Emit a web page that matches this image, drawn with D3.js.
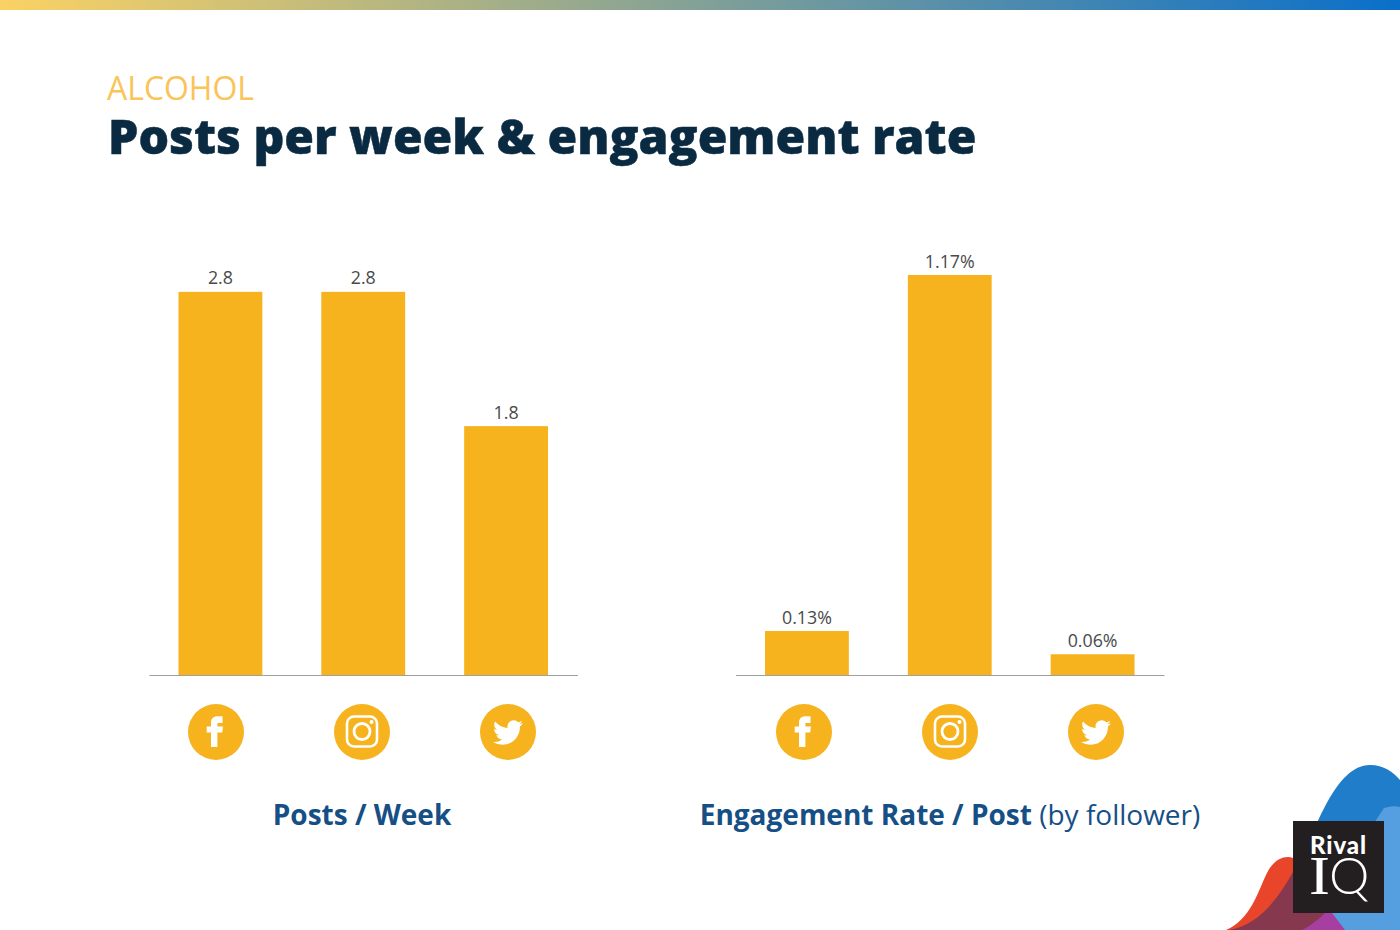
<!DOCTYPE html>
<html>
<head>
<meta charset="utf-8">
<script src="https://cdn.jsdelivr.net/npm/d3@7"></script>
<style>
	html, body { margin: 0; padding: 0; background: #fff; }
	svg { display: block; }
	text { font-family: 'Open Sans', sans-serif; }
	.title { font-size: 48.1px; font-weight: 800; fill: #0a2a42; stroke: #0a2a42; stroke-width: 0.5px; }
	.kicker { font-size: 32px; font-weight: 400; fill: #fac45a; }
	.value { font-size: 17.8px; fill: #4a4a4a; text-anchor: middle; }
	.caption { font-size: 28px; fill: #164f86; text-anchor: middle; }
	.caption .strong { font-weight: 700; }
</style>
</head>
<body>
<svg id="chart" width="1400" height="930"></svg>
<script>
var categories = ['facebook', 'instagram', 'twitter'];
var postsValues = [2.8, 2.8, 1.82];
var postsLabels = ['2.8', '2.8', '1.8'];
var engagementValues = [0.13, 1.17, 0.062];
var engagementLabels = ['0.13%', '1.17%', '0.06%'];

var barColor = '#f6b31e';
var svg = d3.select('#chart');

// top gradient strip
var grad = svg.append('defs').append('linearGradient').attr('id', 'strip');
grad.append('stop').attr('offset', '0%').attr('stop-color', '#fad264');
grad.append('stop').attr('offset', '100%').attr('stop-color', '#0a6fca');
svg.append('rect').attr('width', 1400).attr('height', 10).attr('fill', 'url(#strip)');

svg.append('text').attr('class', 'kicker').attr('x', 107).attr('y', 100).attr('textLength', 147).text('ALCOHOL');
svg.append('text').attr('class', 'title').attr('x', 108).attr('y', 154).text('Posts per week & engagement rate');

function drawIcon(g, name) {
	g.append('circle').attr('r', 28).attr('fill', barColor);
	if (name == 'facebook') {
		g.append('path')
			.attr('transform', 'translate(-21,-22.7) scale(1.6)')
			.attr('fill', '#fff')
			.attr('d', 'M14 8.5h3.2V4.3h-3C11.3 4.3 10 6 10 8.3v2.4H7.3v3.8H10v9h4v-9h3l.5-3.8H14V8.5z');
	}
	else if (name == 'instagram') {
		g.append('rect').attr('x', -15).attr('y', -15.5).attr('width', 30).attr('height', 30).attr('rx', 7)
			.attr('fill', 'none').attr('stroke', '#fff').attr('stroke-width', 2.6);
		g.append('circle').attr('cy', -0.5).attr('r', 8).attr('fill', 'none').attr('stroke', '#fff').attr('stroke-width', 2.8);
		g.append('circle').attr('cx', 9.5).attr('cy', -10).attr('r', 2).attr('fill', '#fff');
	}
	else {
		g.append('path')
			.attr('transform', 'translate(-15,-14.5) scale(1.25)')
			.attr('fill', '#fff')
			.attr('d', 'M23.953 4.57a10 10 0 01-2.825.775 4.958 4.958 0 002.163-2.723c-.951.555-2.005.959-3.127 1.184a4.92 4.92 0 00-8.384 4.482C7.69 8.095 4.067 6.13 1.64 3.162a4.822 4.822 0 00-.666 2.475c0 1.71.87 3.213 2.188 4.096a4.904 4.904 0 01-2.228-.616v.06a4.923 4.923 0 003.946 4.827 4.996 4.996 0 01-2.212.085 4.936 4.936 0 004.604 3.417 9.867 9.867 0 01-6.102 2.105c-.39 0-.779-.023-1.17-.067a13.995 13.995 0 007.557 2.209c9.053 0 13.998-7.496 13.998-13.985 0-.21 0-.42-.015-.63A9.935 9.935 0 0024 4.59z');
	}
}

function drawPanel(p) {
	var x = d3.scaleBand().domain(categories)
		.range([p.left, p.left + 428.5])
		.paddingInner(0.413)
		.paddingOuter(0.2065);
	var y = d3.scaleLinear().domain([0, p.max]).range([675.5, 275]);
	var iconX = d3.scalePoint().domain(categories).range([p.iconLeft, p.iconLeft + 292]);

	svg.selectAll('.bar-' + p.name).data(p.values).enter().append('rect')
		.attr('class', 'bar-' + p.name)
		.attr('x', function(d, i) { return x(categories[i]); })
		.attr('y', function(d) { return y(d); })
		.attr('width', x.bandwidth())
		.attr('height', function(d) { return y(0) - y(d); })
		.attr('fill', barColor);

	svg.selectAll('.value-' + p.name).data(p.values).enter().append('text')
		.attr('class', 'value value-' + p.name)
		.attr('x', function(d, i) { return x(categories[i]) + x.bandwidth() / 2; })
		.attr('y', function(d) { return y(d) - 7.5; })
		.text(function(d, i) { return p.labels[i]; });

	var axis = svg.append('g')
		.attr('transform', 'translate(0,675)')
		.call(d3.axisBottom(x).tickSize(0).tickFormat(''));
	axis.select('.domain').attr('stroke', '#a0a0a0').attr('stroke-width', 1);

	categories.forEach(function(c) {
		drawIcon(svg.append('g').attr('transform', 'translate(' + iconX(c) + ',732)'), c);
	});

	var caption = svg.append('text').attr('class', 'caption')
		.attr('x', p.captionX).attr('y', 825);
	caption.append('tspan').attr('class', 'strong').text(p.caption);
	if (p.captionRest) caption.append('tspan').text(p.captionRest);
}

drawPanel({
	name: 'posts', left: 149, iconLeft: 216, max: 2.923, values: postsValues, labels: postsLabels,
	caption: 'Posts / Week', captionX: 362
});
drawPanel({
	name: 'engagement', left: 735.5, iconLeft: 804, max: 1.17, values: engagementValues, labels: engagementLabels,
	caption: 'Engagement Rate / Post', captionRest: ' (by follower)', captionX: 950
});

// logo
var logo = svg.append('g');
logo.append('path').attr('fill', '#1f7dc9')
	.attr('d', 'M1300 860C1316 830 1335 765 1370 765C1384 765 1393 772 1400 780V930H1300Z');
logo.append('path').attr('fill', '#559fe0')
	.attr('d', 'M1384 808C1392 806 1396 806 1400 807V930H1320L1330 890Z');
logo.append('path').attr('fill', '#e8452a')
	.attr('d', 'M1226 930C1250 920 1258 892 1266 875C1272 862 1280 857 1288 857C1302 857 1312 880 1320 930Z');
logo.append('path').attr('fill', '#a63fa0')
	.attr('d', 'M1300 930C1315 922 1322 912 1326 905L1345 930Z');
logo.append('path').attr('fill', '#86394e')
	.attr('d', 'M1228 930C1260 926 1280 895 1293 872L1326 912C1318 920 1310 926 1302 930Z');
logo.append('rect').attr('x', 1293).attr('y', 821).attr('width', 91).attr('height', 92).attr('fill', '#231f20');
logo.append('text').attr('x', 1310).attr('y', 854).attr('fill', '#fff')
	.style('font-family', 'Lato').style('font-weight', 900).style('font-size', '24px').attr('textLength', 56).text('Rival');
logo.append('text').attr('x', 1309).attr('y', 894).attr('fill', '#fff')
	.style('font-family', 'Liberation Serif').style('font-weight', 400).style('font-size', '55px').attr('textLength', 21).attr('lengthAdjust', 'spacingAndGlyphs').text('I');
logo.append('text').attr('x', 1329).attr('y', 894).attr('fill', '#fff')
	.style('font-family', 'Lato').style('font-weight', 300).style('font-size', '51px').text('Q');
</script>
</body>
</html>
